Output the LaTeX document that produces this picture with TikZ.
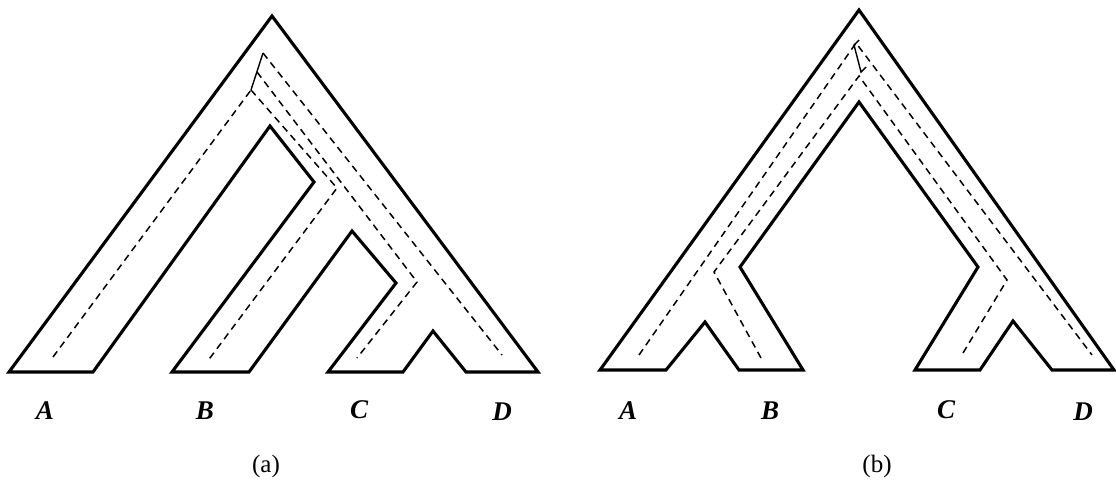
\documentclass[tikz,border=0pt]{standalone}
\usepackage{fontspec}
\setmainfont{Liberation Serif}
\begin{document}
\begin{tikzpicture}[x=1pt,y=-1pt,
  outline/.style={line width=3.1pt,line join=miter,black},
  gene/.style={line width=1.5pt,dash pattern=on 7pt off 5pt},
  genesolid/.style={line width=1.4pt},
  leaf/.style={font=\fontsize{27}{27}\selectfont\bfseries\itshape,inner sep=0pt},
  caption/.style={font=\fontsize{25}{25}\selectfont,inner sep=0pt}]
\useasboundingbox[fill=white] (0,0) rectangle (1116,483);

% ---------- (a) species tree tube ----------
\draw[outline] (9,372) -- (272,16) -- (538,372) -- (466,372) -- (433,331)
  -- (403,372) -- (328,372) -- (396,283) -- (352,231) -- (249,372)
  -- (172,372) -- (314,182) -- (270,126) -- (93,372) -- cycle;

% gene lineages (a)
\coordinate (ga0) at (263,53);
\coordinate (ga1) at (257,72);
\coordinate (ga2) at (251,90);
\draw[genesolid] (ga2) -- (ga0);
\draw[gene] (53,357) -- (ga2);
\draw[gene] (ga0) -- (502,355);
\draw[gene] (ga1) -- (417,282) -- (357,358);
\draw[gene] (ga2) -- (337,188) -- (207,362);

\node[leaf] (la) at (45,411) {A};
\node[leaf] (lb) at (205,411) {B};
\node[leaf] (lc) at (359,410) {C};
\node[leaf] (ld) at (502,412) {D};
\node[caption] (capa) at (266,466) {(a)};

% ---------- (b) species tree tube ----------
\draw[outline] (600,370) -- (859,10) -- (1114,370) -- (1052,370) -- (1013,321)
  -- (980,370) -- (915,370) -- (978,267) -- (859,102) -- (740,267)
  -- (803,370) -- (739,370) -- (705,322) -- (666,370) -- cycle;

% gene lineages (b)
\coordinate (gb0) at (856,43);
\coordinate (gb1) at (859,76);
\draw[gene] (639,355) -- (gb0) -- (1092,355);
\draw[gene] (761,358) -- (714,272) -- (gb1) -- (1007,280) -- (963,353);
\draw[genesolid] (859,40) -- (854,45) -- (861,72) -- (866,67);

\node[leaf] (lA) at (628,411) {A};
\node[leaf] (lB) at (770,411) {B};
\node[leaf] (lC) at (946,410) {C};
\node[leaf] (lD) at (1083,412) {D};
\node[caption] (capb) at (877,466) {(b)};
\end{tikzpicture}
\end{document}
